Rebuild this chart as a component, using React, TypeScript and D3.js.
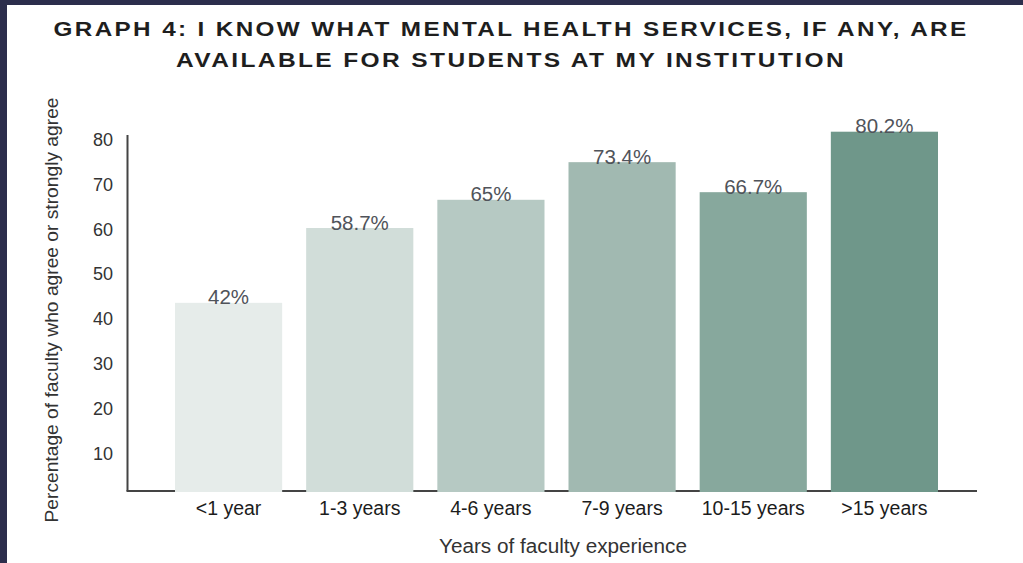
import React from "react";
import * as d3 from "d3";

const categories = ["<1 year", "1-3 years", "4-6 years", "7-9 years", "10-15 years", ">15 years"];
const values = [42, 58.7, 65, 73.4, 66.7, 80.2];
const valueLabels = ["42%", "58.7%", "65%", "73.4%", "66.7%", "80.2%"];
const barColors = ["#e6ecea", "#d1ddd9", "#b6c9c3", "#a1b9b1", "#87a89d", "#6f978a"];
const yTicks = [10, 20, 30, 40, 50, 60, 70, 80];
const titleLines = [
  "GRAPH 4: I KNOW WHAT MENTAL HEALTH SERVICES, IF ANY, ARE",
  "AVAILABLE FOR STUDENTS AT MY INSTITUTION",
];
const xTitle = "Years of faculty experience";
const yTitle = "Percentage of faculty who agree or strongly agree";

const W = 1023;
const H = 563;

export default function App() {
  const x = d3
    .scaleBand<string>()
    .domain(categories)
    .range([163, 950])
    .paddingInner(0.183)
    .paddingOuter(0.0915);
  const y = d3.scaleLinear().domain([0, 80]).range([491, 132.6]);
  const font = "'Liberation Sans', Arial, Helvetica, sans-serif";

  return (
    <svg
      width={W}
      height={H}
      style={{ position: "absolute", left: 0, top: 0, background: "#ffffff" }}
      fontFamily={font}
    >
      <rect x={0} y={0} width={W} height={H} fill="#ffffff" />
      {/* dark frame */}
      <rect x={0} y={0} width={W} height={5} fill="#2c2e4c" />
      <rect x={0} y={0} width={7} height={H} fill="#2c2e4c" />

      {/* title */}
      <text
        x={511}
        y={36}
        textAnchor="middle"
        fontSize={20.5}
        fontWeight="bold"
        fill="#1e1e1e"
        letterSpacing={2}
        textLength={915}
        lengthAdjust="spacingAndGlyphs"
      >
        {titleLines[0]}
      </text>
      <text
        x={511}
        y={66.5}
        textAnchor="middle"
        fontSize={20.5}
        fontWeight="bold"
        fill="#1e1e1e"
        letterSpacing={2}
        textLength={670}
        lengthAdjust="spacingAndGlyphs"
      >
        {titleLines[1]}
      </text>

      {/* axes lines */}
      <line x1={127.5} x2={127.5} y1={135} y2={491} stroke="#444" strokeWidth={2} />
      <line x1={126.5} x2={977} y1={491} y2={491} stroke="#444" strokeWidth={2} />

      {/* y tick labels */}
      {yTicks.map((t) => (
        <text
          key={t}
          x={113}
          y={y(t) + 7}
          dy="0.35em"
          textAnchor="end"
          fontSize={18}
          fill="#333"
        >
          {t}
        </text>
      ))}

      {/* bars */}
      {categories.map((c, i) => (
        <rect
          key={c}
          x={x(c)}
          y={y(values[i])}
          width={x.bandwidth()}
          height={492 - y(values[i])}
          fill={barColors[i]}
        />
      ))}

      {/* value labels */}
      {categories.map((c, i) => (
        <text
          key={c + "v"}
          x={(x(c) as number) + x.bandwidth() / 2}
          y={y(values[i]) + 1.5}
          textAnchor="middle"
          fontSize={20.5}
          fill="#50535a"
        >
          {valueLabels[i]}
        </text>
      ))}

      {/* x tick labels */}
      {categories.map((c) => (
        <text
          key={c + "x"}
          x={(x(c) as number) + x.bandwidth() / 2}
          y={515}
          textAnchor="middle"
          fontSize={19.5}
          fill="#1c1c1c"
        >
          {c}
        </text>
      ))}

      {/* axis titles */}
      <text x={563} y={553} textAnchor="middle" fontSize={19.5} fill="#333" textLength={248} lengthAdjust="spacingAndGlyphs">
        {xTitle}
      </text>
      <text
        transform={`translate(58,310) rotate(-90)`}
        textAnchor="middle"
        fontSize={18.5}
        fill="#333"
        textLength={425}
        lengthAdjust="spacingAndGlyphs"
      >
        {yTitle}
      </text>
    </svg>
  );
}
